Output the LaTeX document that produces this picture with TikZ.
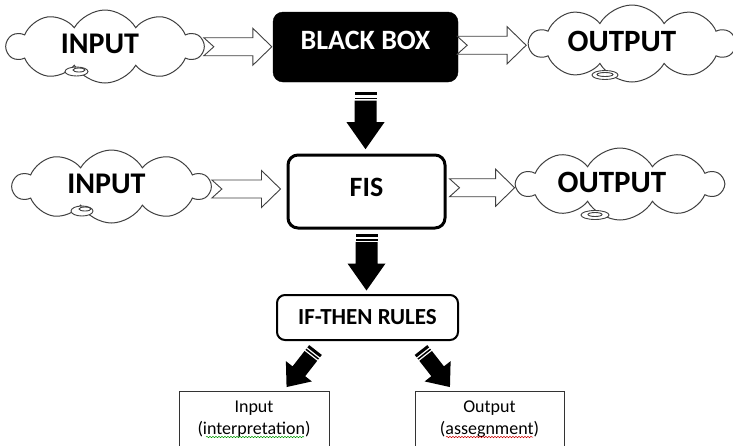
\documentclass[tikz,border=0pt]{standalone}
\usepackage{fontspec}
\setmainfont{Carlito}
\usetikzlibrary{shapes.symbols,calc,decorations.pathmorphing}

\newcommand\hollowarrow[4]{%
  \coordinate (ha-m) at ($(#1)!.5!(#2)$);
  \coordinate (ha-s) at ($(#1 |- ha-m)+(#3,0)$);
  \coordinate (ha-e) at ($(#2 |- ha-m)+(-#4,0)$);
  \draw[hollow] ($(ha-s)+(0,-9)$) -- ($(ha-e)+(-19,-9)$) -- ($(ha-e)+(-19,-18.5)$) -- (ha-e)
    -- ($(ha-e)+(-19,18.5)$) -- ($(ha-e)+(-19,9)$) -- ($(ha-s)+(0,9)$) -- ($(ha-s)+(10,0)$) -- cycle;}

\tikzset{
  pics/bigarrow/.style={code={
    \fill (-11,0) rectangle (11,3);
    \fill (-11,5.5) rectangle (11,7);
    \fill (-11,8.5) -- (11,8.5) -- (11,30) -- (19,30) -- (0,57) -- (-19,30) -- (-11,30) -- cycle;}},
  pics/smallarrow/.style={code={
    \fill (-8,0) rectangle (8,3);
    \fill (-8,4.5) rectangle (8,6);
    \fill (-8,7.5) -- (8,7.5) -- (8,27) -- (16.5,27) -- (0,47) -- (-16.5,27) -- (-8,27) -- cycle;}}
}

\begin{document}
\begin{tikzpicture}[x=1pt,y=-1pt,
  cloudshape/.style={cloud, cloud puffs=10, cloud puff arc=120, draw=black!75, line width=1pt, fill=white, inner sep=0pt},
  cloudtext/.style={font=\bfseries\fontsize{30}{32}\selectfont, inner sep=0pt},
  donut/.style={draw=black!75, line width=0.9pt, fill=white},
  hollow/.style={draw=black!75, line width=0.9pt, fill=white, line join=miter},
  roundbox/.style={draw=black, rounded corners=10pt, inner sep=0pt},
  plainbox/.style={draw=black!80, line width=0.6pt, inner sep=0pt},
  smalltext/.style={font=\fontsize{18}{22}\selectfont, align=center, inner sep=0pt},
  wavy/.style={line width=0.5pt, decorate, decoration={snake, amplitude=0.7pt, segment length=3pt}}
]
\path[use as bounding box, clip] (0,0) rectangle (733,445);
\fill[white] (0,0) rectangle (733,445);

% row 1
\node[cloudshape, minimum width=196pt, minimum height=73pt] (in1) at (105,46.5) {};
\draw[donut] (76.5,71.5) ellipse [x radius=11.5, y radius=4.5];
\draw[donut] (79,70) ellipse [x radius=6, y radius=2];
\node[cloudtext] (in1t) at (100,44) {INPUT};

\node[roundbox, fill=black, minimum width=185pt, minimum height=70pt,
      text=white, font=\bfseries\fontsize{28}{30}\selectfont, text depth=14pt] (bb) at (365.5,47) {BLACK BOX};

\node[cloudshape, minimum width=205pt, minimum height=77pt] (out1) at (632,43.5) {};
\draw[donut] (605,75) ellipse [x radius=13, y radius=4.5];
\draw[donut] (605,74.5) ellipse [x radius=8, y radius=2];
\node[cloudtext, font=\bfseries\fontsize{31}{33}\selectfont] (out1t) at (622,41) {OUTPUT};

\hollowarrow{in1.east}{bb.west}{-1}{1}
\hollowarrow{bb.east}{out1.west}{-1}{1.5}

\pic at ($(bb.south)+(0,10)$) {bigarrow};

% row 2
\node[cloudshape, minimum width=197pt, minimum height=73pt] (in2) at (111.5,186.5) {};
\draw[donut] (82,211) ellipse [x radius=11, y radius=5];
\draw[donut] (85,209) ellipse [x radius=6, y radius=2];
\node[cloudtext] (in2t) at (106.5,184) {INPUT};

\node[roundbox, line width=3pt, fill=white, minimum width=157pt, minimum height=73pt,
      font=\bfseries\fontsize{28}{30}\selectfont, text depth=9pt] (fis) at (366.5,191.5) {FIS};

\node[cloudshape, minimum width=206pt, minimum height=72pt] (out2) at (620,184) {};
\draw[donut] (595,215) ellipse [x radius=14, y radius=4.5];
\draw[donut] (595,214.5) ellipse [x radius=7, y radius=2];
\node[cloudtext, font=\bfseries\fontsize{31}{33}\selectfont] (out2t) at (612,182) {OUTPUT};

\hollowarrow{in2.east}{fis.west}{0}{6}
\hollowarrow{fis.east}{out2.west}{3}{0}

\pic at ($(fis.south)+(0,4)$) {bigarrow};

% rules
\node[roundbox, line width=2pt, rounded corners=8pt, fill=white, minimum width=181pt, minimum height=45pt,
      font=\bfseries\fontsize{23}{25}\selectfont] (rules) at (367.5,317.5) {IF-THEN RULES};

\pic[rotate=-38] at ($(rules.south)+(-52,9)$) {smallarrow};
\pic[rotate=38] at ($(rules.south)+(53.5,9)$) {smallarrow};

% bottom boxes
\node[plainbox, minimum width=150pt, minimum height=70pt] (ib) at (254,426) {};
\node[smalltext] (ibt) at (254,419) {Input\\(interpretation)};
\node[plainbox, minimum width=149pt, minimum height=70pt] (ob) at (489.5,426) {};
\node[smalltext] (obt) at (489.5,419) {Output\\(assegnment)};

\draw[wavy, green!60!black] (206,437) -- (304,437);
\draw[wavy, red!80!black] (446,437) -- (533,437);
\end{tikzpicture}
\end{document}
